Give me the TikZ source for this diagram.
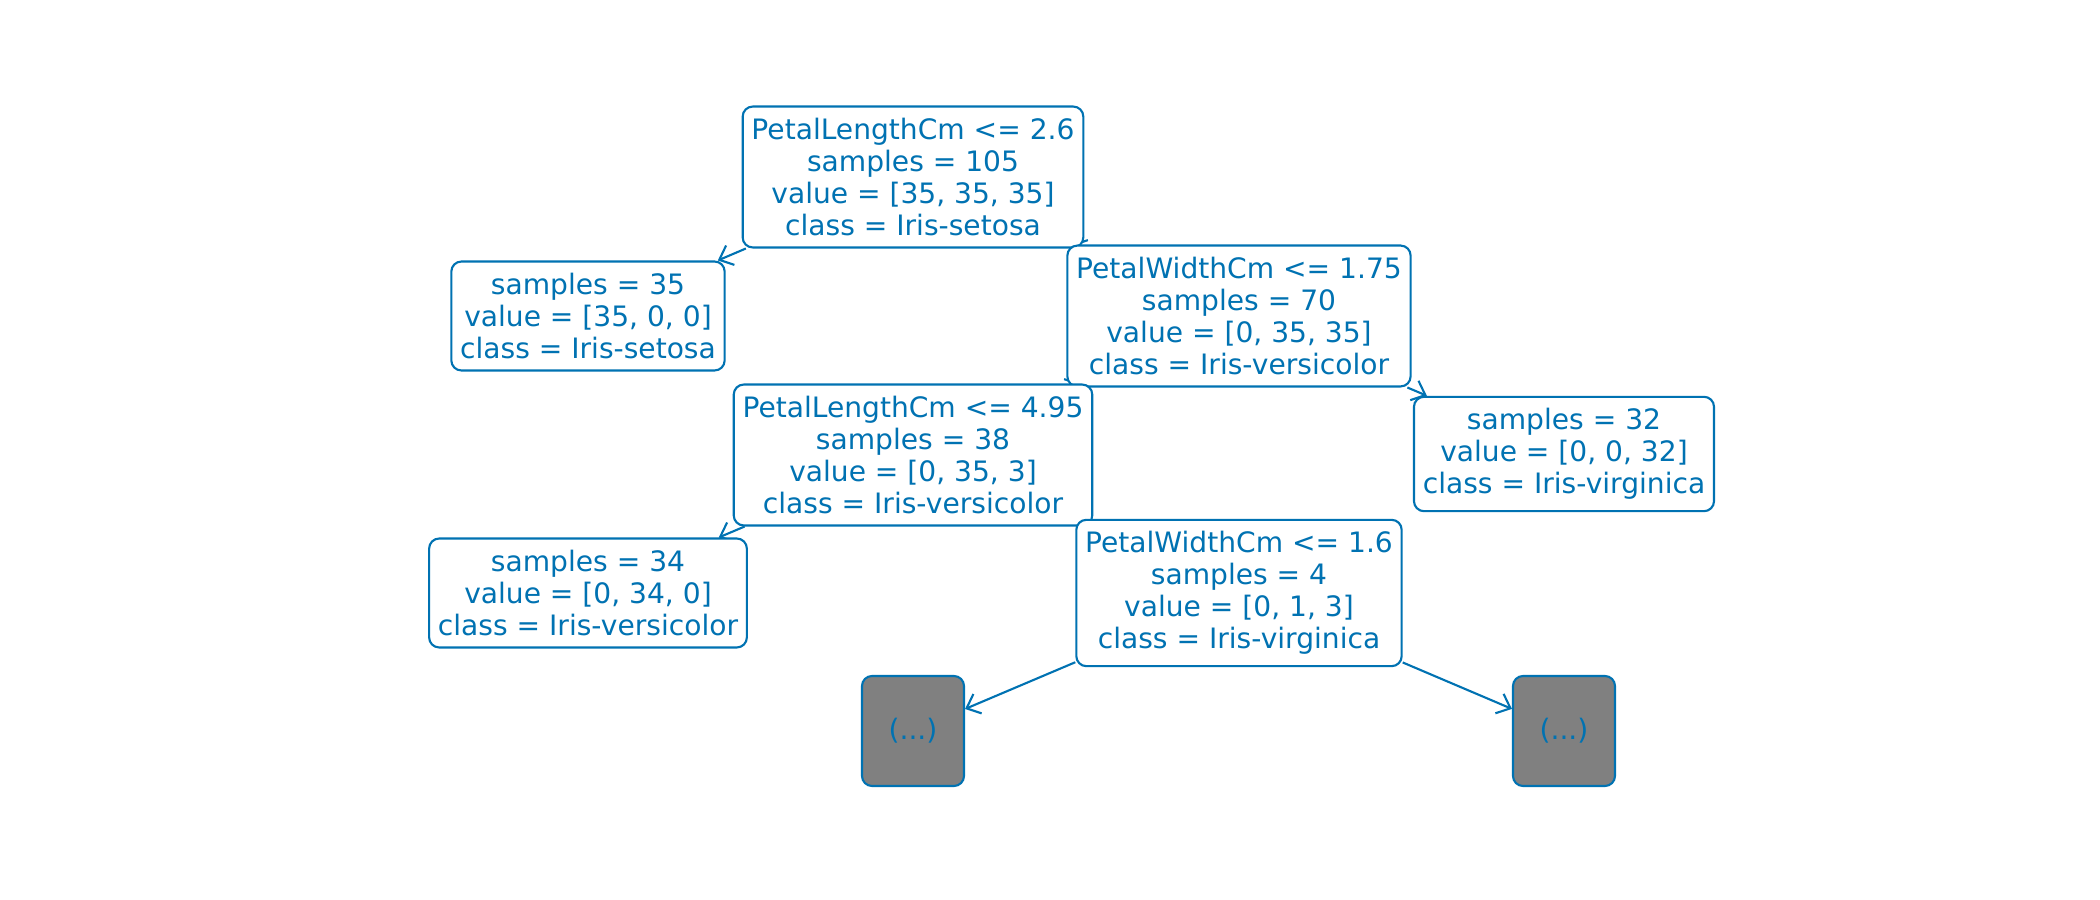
\documentclass[tikz,border=0pt]{standalone}
\usepackage{fontspec}
\setmainfont{DejaVu Sans}
\usepackage{tikz}
\usetikzlibrary{positioning,backgrounds,arrows.meta}
\definecolor{skB}{RGB}{0,114,178}

\begin{document}
\begin{tikzpicture}[x=1cm,y=1cm,font=\fontsize{8}{9.1}\selectfont,
   nd/.style={rectangle,rounded corners=1mm,draw=skB,line width=0.6pt,fill=white,
      text=skB,align=center,inner xsep=2.5pt,inner ysep=3.3pt},
   tr/.style={nd,fill=gray,minimum width=1.02cm,minimum height=1.1cm},
   e/.style={draw=skB,line width=0.6pt,-{Straight Barb[length=3.4pt,width=6pt]}}]
\useasboundingbox (0,0) rectangle (21,9);
%% ---- split nodes ----
\node[nd] (n0) at (9.13,7.23) {PetalLengthCm <= 2.6\\samples = 105\\value = [35, 35, 35]\\class = Iris-setosa};
\node[nd] (n2) at (12.39,5.84) {PetalWidthCm <= 1.75\\samples = 70\\value = [0, 35, 35]\\class = Iris-versicolor};
\node[nd] (n3) at (9.13,4.45) {PetalLengthCm <= 4.95\\samples = 38\\value = [0, 35, 3]\\class = Iris-versicolor};
\node[nd] (n5) at (12.39,3.07) {PetalWidthCm <= 1.6\\samples = 4\\value = [0, 1, 3]\\class = Iris-virginica};
%% ---- leaves ----
\node[nd] (n1) at (5.88,5.84) {samples = 35\\value = [35, 0, 0]\\class = Iris-setosa};
\node[nd] (n6) at (15.64,4.46) {samples = 32\\value = [0, 0, 32]\\class = Iris-virginica};
\node[nd] (n4) at (5.88,3.07) {samples = 34\\value = [0, 34, 0]\\class = Iris-versicolor};
%% ---- truncated subtrees ----
\node[tr] (t1) at (9.13,1.69) {(...)};
\node[tr] (t2) at (15.64,1.69) {(...)};
%% ---- edges, head on the child; boxes sit on top ----
\begin{scope}[on background layer]
  \draw[e] (n0)--(n1);
  \draw[e] (n0)--(n2);   % boxes overlap, head is hidden
  \draw[e] (n2)--(n3);
  \draw[e] (n2)--(n6);
  \draw[e] (n3)--(n4);
  \draw[e] (n3)--(n5);
  \draw[e] (n5)--(t1);
  \draw[e] (n5)--(t2);
\end{scope}
\end{tikzpicture}
\end{document}
